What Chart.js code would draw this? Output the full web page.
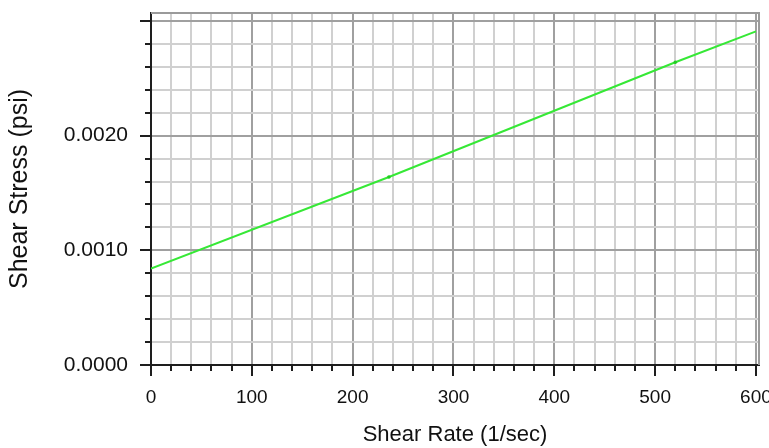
<!DOCTYPE html>
<html>
<head>
<meta charset="utf-8">
<script src="https://cdn.jsdelivr.net/npm/chart.js@4/dist/chart.umd.min.js"></script>
<style>
  html, body { margin: 0; padding: 0; background: #ffffff; }
  #wrap { width: 769px; height: 448px; position: relative; }
</style>
</head>
<body>
<div id="wrap"><canvas id="c" width="769" height="448"></canvas></div>
<script>
// ---- data ----
const shearRate   = [0, 236, 520, 600];                  // 1/sec
const shearStress = [0.00084, 0.00164, 0.00264, 0.00291]; // psi
const xTickLabels = ['0', '100', '200', '300', '400', '500', '600'];
const yTickLabels = ['0.0000', '0.0010', '0.0020'];
const xAxisTitle = 'Shear Rate (1/sec)';
const yAxisTitle = 'Shear Stress (psi)';

// axis settings
const X_MIN = 0, X_MAX = 603, X_MAJOR = 100, X_MINOR = 20;
const Y_MIN = 0, Y_MAX = 0.00307, Y_MAJOR = 0.001, Y_MINOR = 0.0002;

function isMajor(v, step) {
  const r = v / step;
  return Math.abs(r - Math.round(r)) < 1e-6;
}
function minorTicks(min, maxTick, step) {
  const out = [];
  const n = Math.round((maxTick - min) / step);
  for (let i = 0; i <= n; i++) out.push({ value: +(min + i * step).toFixed(8) });
  return out;
}
function noEdgePadding(s) {
  s.paddingTop = 0; s.paddingBottom = 0; s.paddingLeft = 0; s.paddingRight = 0;
}

const MAJOR_GRID = '#a0a0a0';
const MINOR_GRID = '#d0d0d0';
const TEXT = '#111111';

const frameAndTicks = {
  id: 'frameAndTicks',
  beforeDatasetsDraw(chart) {
    const { ctx, chartArea: a } = chart;
    ctx.save();
    ctx.strokeStyle = '#9a9a9a';
    ctx.lineWidth = 2;
    ctx.beginPath();
    ctx.moveTo(a.left, a.top);
    ctx.lineTo(a.right, a.top);
    ctx.lineTo(a.right, a.bottom);
    ctx.stroke();
    ctx.restore();
  },
  afterDraw(chart) {
    const { ctx, chartArea: a } = chart;
    const xs = chart.scales.x, ys = chart.scales.y;
    ctx.save();
    ctx.strokeStyle = '#1e1e1e';
    ctx.lineWidth = 2;
    ctx.beginPath();
    xs.ticks.forEach(t => {
      const px = Math.round(xs.getPixelForValue(t.value));
      const len = isMajor(t.value, X_MAJOR) ? 11 : 6;
      ctx.moveTo(px, a.bottom);
      ctx.lineTo(px, a.bottom + len);
    });
    ys.ticks.forEach(t => {
      const py = Math.round(ys.getPixelForValue(t.value));
      const len = isMajor(t.value, Y_MAJOR) ? 11 : 6;
      ctx.moveTo(a.left, py);
      ctx.lineTo(a.left - len, py);
    });
    ctx.stroke();
    ctx.restore();
  }
};

new Chart(document.getElementById('c'), {
  type: 'line',
  data: {
    datasets: [{
      data: shearRate.map((x, i) => ({ x: x, y: shearStress[i] })),
      borderColor: '#36e836',
      backgroundColor: '#22cc22',
      borderWidth: 2,
      pointRadius: [0, 1.8, 1.8, 0],
      pointBorderWidth: 0,
      pointBackgroundColor: '#22cc22',
      tension: 0,
      fill: false
    }]
  },
  options: {
    responsive: false,
    animation: false,
    devicePixelRatio: 1,
    layout: { padding: { top: 13, right: 10, left: 0, bottom: 0 } },
    plugins: { legend: { display: false }, tooltip: { enabled: false } },
    scales: {
      x: {
        type: 'linear',
        min: X_MIN, max: X_MAX,
        afterBuildTicks: s => { s.ticks = minorTicks(X_MIN, 600, X_MINOR); },
        afterFit: s => { s.height = 83; noEdgePadding(s); },
        ticks: {
          autoSkip: false,
          maxRotation: 0,
          padding: 21,
          color: TEXT,
          font: { family: '"Liberation Sans", Arial, sans-serif', size: 19 },
          callback: v => isMajor(v, X_MAJOR) ? xTickLabels[Math.round(v / X_MAJOR)] : ''
        },
        grid: {
          drawTicks: false,
          color: c => (c.tick && isMajor(c.tick.value, X_MAJOR)) ? MAJOR_GRID : MINOR_GRID,
          lineWidth: 2
        },
        border: { display: true, color: '#1e1e1e', width: 2 },
        title: {
          display: true,
          text: xAxisTitle,
          color: TEXT,
          font: { family: '"Liberation Sans", Arial, sans-serif', size: 22 },
          padding: { top: 0, bottom: 0 }
        }
      },
      y: {
        type: 'linear',
        min: Y_MIN, max: Y_MAX,
        afterBuildTicks: s => { s.ticks = minorTicks(Y_MIN, 0.0030, Y_MINOR); },
        afterFit: s => { s.width = 151; noEdgePadding(s); },
        ticks: {
          autoSkip: false,
          padding: 23,
          color: TEXT,
          font: { family: '"Liberation Sans", Arial, sans-serif', size: 21 },
          callback: v => {
            if (!isMajor(v, Y_MAJOR)) return '';
            const i = Math.round(v / Y_MAJOR);
            return i < yTickLabels.length ? yTickLabels[i] : '';
          }
        },
        grid: {
          drawTicks: false,
          color: c => (c.tick && isMajor(c.tick.value, Y_MAJOR)) ? MAJOR_GRID : MINOR_GRID,
          lineWidth: 2
        },
        border: { display: true, color: '#1e1e1e', width: 2 },
        title: {
          display: true,
          text: yAxisTitle,
          color: TEXT,
          font: { family: '"Liberation Sans", Arial, sans-serif', size: 25 },
          padding: { top: 5, bottom: 0 }
        }
      }
    }
  },
  plugins: [frameAndTicks]
});
</script>
</body>
</html>
